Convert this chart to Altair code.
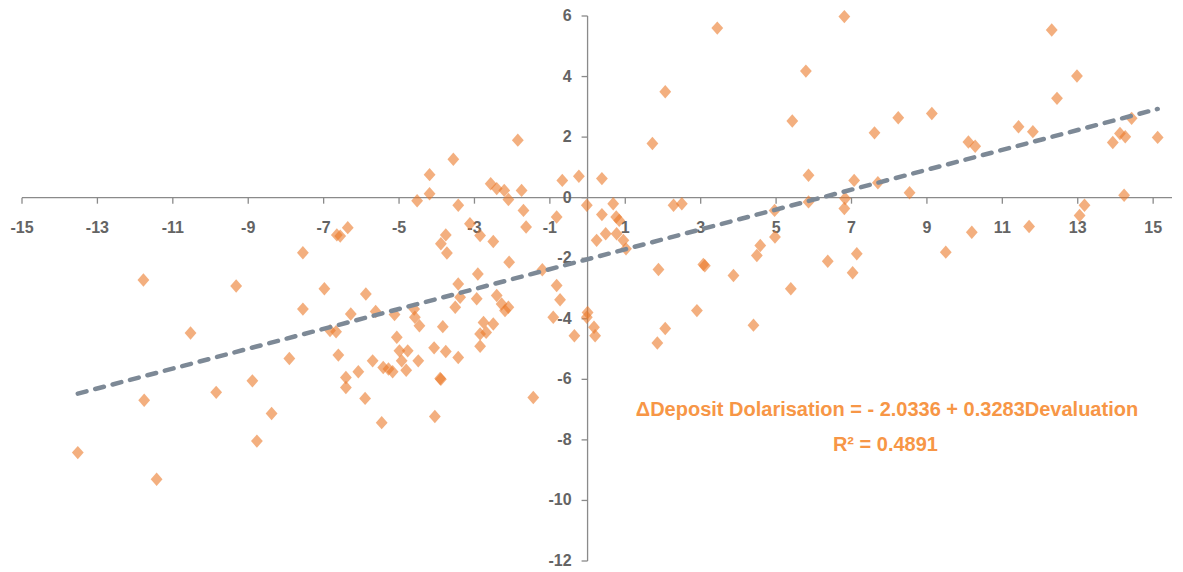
import altair as alt
import pandas as pd

# ---- data ----
devaluation = [
    -7.55, -11.78, -9.32, -6.98, -7.55, -10.53, -7.91, -8.89, -11.76, -9.85, -8.38, -8.77, -13.52, -11.43,
    -3.56, -4.19, -4.19, -4.52, -3.43, -6.36, -6.65, -6.56, -3.76, -3.89, -3.73, -5.88, -3.43, -3.51,
    -6.28, -5.62, -5.12, -4.60, -4.58, -4.46, -3.84, -6.83, -6.67, -5.06, -4.99, -4.77, -4.07, -3.76,
    -3.43, -6.61, -4.93, -4.49, -5.70, -5.42, -5.28, -5.17, -4.81, -6.08, -6.41, -6.41, -3.91, -3.89,
    -5.90, -4.05, -5.46,
    -1.85, -2.57, -2.41, -2.21, -2.10, -1.75, -0.67, -0.23, -1.70, -0.82, -1.63, -3.12, -2.85, -2.50,
    -0.02, 0.24, -2.08, -1.20, -2.91, -2.41, -2.94, -2.28, -2.10, -2.19, -3.38, -0.82, -0.73, -0.91,
    0.00, -0.02, 0.17, 0.20, -0.35, -2.76, -2.69, -2.50, -2.85, -2.85, -1.44,
    3.44, 2.06, 1.72, 5.43, 0.38, 0.68, 0.38, 0.76, 0.84, 2.28, 2.50, 4.96, 0.48, 0.77, 0.95, 1.02,
    4.97, 4.58, 4.49, 3.07, 3.11, 1.88, 3.87, 5.39, 2.90, 2.06, 4.40, 1.85,
    6.81, 5.79, 7.61, 8.24, 9.13, 10.10, 10.28, 5.86, 7.07, 7.70, 8.54, 5.86, 6.83, 6.81, 10.19, 9.50,
    7.14, 6.37, 7.03,
    12.31, 12.98, 12.45, 11.43, 11.81, 14.43, 14.12, 14.26, 13.93, 15.12, 14.23, 13.18, 13.05, 11.71,
]
dollarisation = [
    -1.82, -2.72, -2.92, -3.01, -3.68, -4.47, -5.31, -6.05, -6.69, -6.43, -7.13, -8.04, -8.42, -9.30,
    1.27, 0.76, 0.13, -0.10, -0.25, -0.99, -1.23, -1.27, -1.23, -1.52, -1.83, -3.18, -2.85, -3.62,
    -3.84, -3.76, -3.86, -3.68, -3.95, -4.23, -4.26, -4.39, -4.43, -4.61, -5.06, -5.06, -4.96, -5.08,
    -5.28, -5.20, -5.39, -5.39, -5.39, -5.61, -5.66, -5.75, -5.70, -5.75, -5.94, -6.27, -5.97, -6.00,
    -6.63, -7.23, -7.43,
    1.90, 0.46, 0.30, 0.24, -0.06, 0.24, 0.57, 0.71, -0.42, -0.64, -0.97, -0.86, -1.25, -1.45,
    -0.25, -1.41, -2.13, -2.38, -2.52, -3.23, -3.34, -3.51, -3.62, -3.73, -3.29, -2.90, -3.37, -3.95,
    -3.79, -3.95, -4.28, -4.56, -4.56, -4.12, -4.45, -4.17, -4.50, -4.91, -6.60,
    5.60, 3.50, 1.79, 2.53, 0.63, -0.20, -0.56, -0.64, -0.75, -0.25, -0.20, -0.42, -1.19, -1.19, -1.41, -1.69,
    -1.30, -1.58, -1.91, -2.21, -2.25, -2.37, -2.57, -3.01, -3.73, -4.32, -4.21, -4.80,
    5.98, 4.18, 2.14, 2.64, 2.78, 1.84, 1.70, 0.74, 0.57, 0.49, 0.16, -0.14, -0.03, -0.36, -1.14, -1.80,
    -1.85, -2.10, -2.48,
    5.54, 4.02, 3.28, 2.34, 2.18, 2.62, 2.12, 2.01, 1.82, 1.99, 0.08, -0.25, -0.59, -0.95,
]
x_tick_values = [-15, -13, -11, -9, -7, -5, -3, -1, 1, 3, 5, 7, 9, 11, 13, 15]
y_tick_values = [-12, -10, -8, -6, -4, -2, 0, 2, 4, 6]
trend_intercept = -2.0336
trend_slope = 0.3283
equation_lines = ["ΔDeposit Dolarisation = - 2.0336 + 0.3283Devaluation", "R² = 0.4891"]
equation_x = [7.94, 7.90]
equation_y = [-7.02, -8.18]

# ---- layout ----
X_DOMAIN = [-15, 15.5]
Y_DOMAIN = [-12, 6]
W, H = 1150, 545
AXIS_COLOR = "#8a8a8a"
LABEL_COLOR = "#646464"
FONT = "Liberation Sans"

pts = pd.DataFrame({"dev": devaluation, "dd": dollarisation})
trend = pd.DataFrame({"dev": [min(devaluation), max(devaluation)]})
ann = pd.DataFrame({"tx": equation_x, "ty": equation_y, "label": equation_lines})
xt = pd.DataFrame({"v": x_tick_values, "zero": [0] * len(x_tick_values),
                   "lab": [str(v) for v in x_tick_values]})
yt = pd.DataFrame({"v": y_tick_values, "zero": [0] * len(y_tick_values),
                   "lab": [str(v) for v in y_tick_values]})
x_axis_line = pd.DataFrame({"a": [X_DOMAIN[0]], "b": [X_DOMAIN[1]], "zero": [0]})
y_axis_line = pd.DataFrame({"a": [Y_DOMAIN[0]], "b": [Y_DOMAIN[1]], "zero": [0]})

xs = alt.Scale(domain=X_DOMAIN, nice=False, zero=False)
ys = alt.Scale(domain=Y_DOMAIN, nice=False, zero=False)

def X(f):
    return alt.X(f, type="quantitative", scale=xs, axis=None)

def Y(f):
    return alt.Y(f, type="quantitative", scale=ys, axis=None)

# axes crossing at the origin
x_line = alt.Chart(x_axis_line).mark_rule(color=AXIS_COLOR, strokeWidth=1.3).encode(
    x=X("a"), x2="b", y=Y("zero"))
y_line = alt.Chart(y_axis_line).mark_rule(color=AXIS_COLOR, strokeWidth=1.3).encode(
    y=Y("a"), y2="b", x=X("zero"))
x_ticks = alt.Chart(xt).mark_tick(orient="vertical", size=6, thickness=1.3, yOffset=3,
                                  color=AXIS_COLOR, opacity=1).encode(x=X("v"), y=Y("zero"))
y_ticks = alt.Chart(yt).mark_tick(orient="horizontal", size=6, thickness=1.3, xOffset=-3,
                                  color=AXIS_COLOR, opacity=1).encode(y=Y("v"), x=X("zero"))
x_labels = alt.Chart(xt).mark_text(font=FONT, fontSize=16, fontWeight="bold", color=LABEL_COLOR,
                                   align="center", baseline="middle", dy=30).encode(
    x=X("v"), y=Y("zero"), text="lab:N")
y_labels = alt.Chart(yt).mark_text(font=FONT, fontSize=16, fontWeight="bold", color=LABEL_COLOR,
                                   align="right", baseline="middle", dx=-16).encode(
    y=Y("v"), x=X("zero"), text="lab:N")

points = alt.Chart(pts).mark_point(
    shape="M0,-1L0.88,0L0,1L-0.88,0Z", filled=True, size=180, color="#EB7A2A", opacity=0.6,
).encode(x=X("dev"), y=Y("dd"))

line = alt.Chart(trend).transform_calculate(
    fit=f"{trend_intercept} + {trend_slope} * datum.dev"
).mark_line(
    color="#7D8996", strokeWidth=4.5, strokeDash=[9, 9], strokeCap="round",
).encode(x=X("dev"), y=Y("fit"))

text = alt.Chart(ann).mark_text(
    font=FONT, fontSize=20, fontWeight="bold", color="#F79646",
    align="center", baseline="middle",
).encode(x=X("tx"), y=Y("ty"), text="label:N")

chart = alt.layer(
    x_line, y_line, x_ticks, y_ticks, x_labels, y_labels, points, line, text
).properties(
    width=W, height=H,
    background="white",
    autosize=alt.AutoSizeParams(type="none"),
    padding={"left": 14, "top": 8, "right": 0, "bottom": 8},
).configure_view(strokeWidth=0)

chart.save("out.html", embed_options={"renderer": "svg", "actions": False})
